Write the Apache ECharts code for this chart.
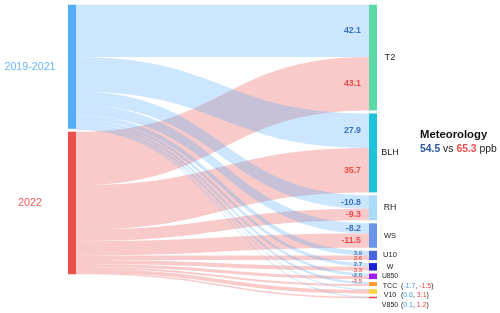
<!DOCTYPE html>
<html><head><meta charset="utf-8">
<script src="https://cdn.jsdelivr.net/npm/echarts@6/dist/echarts.min.js"></script>
<style>html,body{margin:0;padding:0;background:#fff}#c{width:500px;height:313px}</style>
</head><body><div id="c"></div>
<script>
var sources = ['2019-2021', '2022'];
var targets = ['T2', 'BLH', 'RH', 'WS', 'U10', 'W', 'U850', 'TCC', 'V10', 'V850'];
var vals2019 = [42.1, 27.9, -10.8, -8.2, 3.9, 2.7, -2.0, -1.7, 0.6, 0.1];
var vals2022 = [43.1, 35.7, -9.3, -11.5, 3.6, 3.3, -2.5, -1.5, 3.1, 1.2];
var titleText = 'Meteorology';
var totals = [54.5, 65.3];
var unit = 'ppb';

var sourceColors = ['#55acf7', '#e8514e'];
var targetColors = ['#5cd9a6', '#1cc3db', '#a8dcfa', '#6b95e6', '#4766e0', '#1a22d6', '#9a1ff2', '#ff9933', '#ffd23f', '#e8514e'];
var targetFont = [9.3, 9, 8.8, 7.6, 7.5, 7, 6.8, 7, 7, 7];
var labelBlue = '#2f56a6', labelRed = '#ee4b4b';
var FONT = 'Liberation Sans, Arial, sans-serif';
var edgeLabelCount = 7;

var chart = echarts.init(document.getElementById('c'), null, {renderer: 'canvas'});

function buildNodes(offsets) {
  var nodes = [];
  sources.forEach(function (s, i) {
    nodes.push({
      name: s, itemStyle: {color: sourceColors[i]},
      label: {position: 'left', align: 'center', distance: 38, fontSize: 10.7, color: i === 0 ? '#6ab6f7' : '#f05a5a'}
    });
  });
  targets.forEach(function (t, i) {
    var fs = targetFont[i];
    var n = {name: t, itemStyle: {color: targetColors[i]},
      label: {position: 'right', align: 'center', distance: 13, fontSize: fs, color: '#222',
              offset: [0, offsets ? offsets[i] : 0]}};
    if (i >= edgeLabelCount) {
      n.label.align = 'left';
      n.label.distance = 6;
      n.label.formatter = '{n|' + t + '}  {p|(}{b|' + vals2019[i].toFixed(1) + '}{p|, }{r|' + vals2022[i].toFixed(1) + '}{p|)}';
      n.label.rich = {
        n: {fontSize: fs, color: '#222', width: 14, align: 'center', fontFamily: FONT},
        p: {fontSize: fs, color: '#222', fontFamily: FONT},
        b: {fontSize: fs, color: '#4a9ff5', fontFamily: FONT},
        r: {fontSize: fs, color: '#ee4444', fontFamily: FONT}
      };
    }
    nodes.push(n);
  });
  return nodes;
}
var links = [];
targets.forEach(function (t, i) {
  links.push({source: sources[0], target: t, value: Math.abs(vals2019[i]), raw: vals2019[i], s: 0, ti: i});
  links.push({source: sources[1], target: t, value: Math.abs(vals2022[i]), raw: vals2022[i], s: 1, ti: i});
});

chart.setOption({
  animation: false,
  textStyle: {fontFamily: FONT},
  title: {
    text: titleText,
    subtext: '{b|' + totals[0].toFixed(1) + '} vs {r|' + totals[1].toFixed(1) + '} ' + unit,
    left: 420, top: 129, itemGap: 4, padding: 0,
    textStyle: {fontSize: 11.3, fontWeight: 'bold', color: '#111', fontFamily: FONT},
    subtextStyle: {fontSize: 10.4, color: '#222', fontFamily: FONT,
      rich: {b: {fontSize: 10.4, fontWeight: 'bold', color: labelBlue, fontFamily: FONT},
             r: {fontSize: 10.4, fontWeight: 'bold', color: labelRed, fontFamily: FONT}}}
  },
  series: [{
    type: 'sankey',
    left: 68, right: 123, top: 4.7, bottom: 14.7,
    nodeWidth: 8, nodeGap: 3,
    layoutIterations: 0,
    draggable: false,
    emphasis: {disabled: true},
    label: {fontFamily: FONT},
    lineStyle: {color: 'source', opacity: 0.3, curveness: 0.5},
    data: buildNodes(null),
    links: links
  }]
});

(function () {
  var series = chart.getModel().getSeriesByIndex(0);
  var graph = series.getGraph();
  var box = series.layoutInfo;

  // de-overlap right node labels (push downward, keep a minimum spacing)
  var centers = targets.map(function (t) {
    var nl = graph.getNodeByName ? null : null;
    return null;
  });
  graph.nodes.forEach(function (n) {
    var idx = targets.indexOf(n.id !== undefined ? n.id : n.name);
    if (idx < 0) idx = targets.indexOf(n.hostGraph.data.getName(n.dataIndex));
    if (idx < 0) return;
    var l = n.getLayout();
    centers[idx] = box.y + l.y + l.dy / 2;
  });
  var offsets = [];
  var prev = -1e9;
  centers.forEach(function (c, i) {
    var y = c;
    if (i >= 4) y = Math.max(c, prev + 9.5);
    offsets[i] = y - c;
    prev = y;
  });

  // link value labels beside the target end of each link, from the library's layout
  var items = [];
  graph.edges.forEach(function (e) {
    var link = links[e.dataIndex];
    if (!link || link.ti >= edgeLabelCount) return;
    var el = e.getLayout();
    var nl = e.node2.getLayout();
    items.push({
      x: box.x + nl.x - 8,
      y: box.y + nl.y + el.ty + el.dy / 2,
      text: link.raw.toFixed(1),
      small: link.ti >= 4,
      s: link.s
    });
  });
  items.sort(function (a, b) { return a.y - b.y; });
  var p2 = -1e9;
  items.forEach(function (it) {
    if (it.small) { it.y = Math.max(it.y, p2 + 5.5); p2 = it.y; }
  });
  var g = items.map(function (it) {
    return {
      type: 'text', silent: true, x: it.small ? it.x + 1 : it.x, y: it.y,
      style: {
        text: it.text, align: 'right', verticalAlign: 'middle',
        fill: it.small ? (it.s === 0 ? '#3a63b5' : '#f06060') : (it.s === 0 ? labelBlue : labelRed),
        font: 'bold ' + (it.small ? 6 : 8.8) + 'px ' + FONT
      }
    };
  });
  chart.setOption({series: [{data: buildNodes(offsets)}], graphic: g});
})();
</script></body></html>
